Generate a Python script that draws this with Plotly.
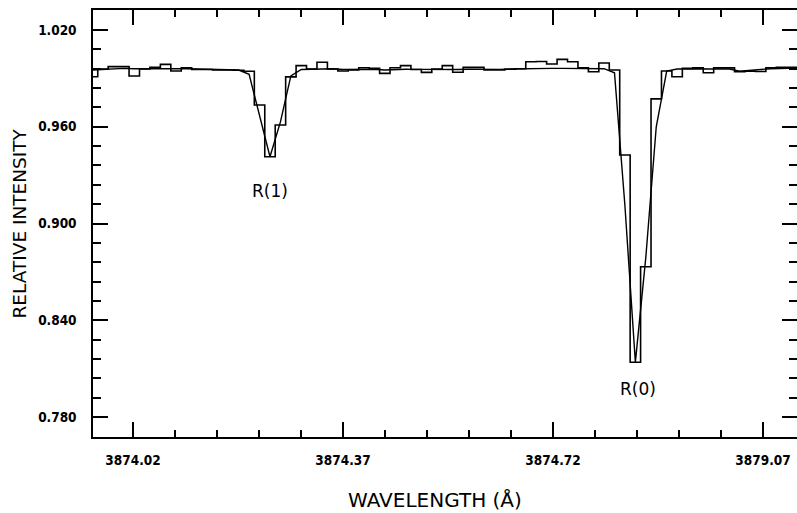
import plotly.graph_objects as go

# ---- data ----
wavelength = [
    3873.9525, 3873.9699, 3873.9873, 3874.0047, 3874.0221, 3874.0395, 3874.0569, 3874.0743,
    3874.0917, 3874.1091, 3874.1265, 3874.1439, 3874.1613, 3874.1787, 3874.1961, 3874.2135,
    3874.2309, 3874.2483, 3874.2657, 3874.2831, 3874.3005, 3874.3179, 3874.3353, 3874.3527,
    3874.3701, 3874.3875, 3874.4049, 3874.4223, 3874.4397, 3874.4571, 3874.4745, 3874.4919,
    3874.5093, 3874.5267, 3874.5441, 3874.5615, 3874.5789, 3874.5963, 3874.6137, 3874.6311,
    3874.6485, 3874.6659, 3874.6833, 3874.7007, 3874.7181, 3874.7355, 3874.7529, 3874.7703,
    3874.7877, 3874.8051, 3874.8225, 3874.8399, 3874.8573, 3874.8747, 3874.8921, 3874.9095,
    3874.9269, 3874.9443, 3874.9617, 3874.9791, 3874.9965, 3875.0139, 3875.0313, 3875.0487,
    3875.0661, 3875.0835, 3875.1009, 3875.1183, 3875.1357,
]

observed = [
    0.9910, 0.9958, 0.9973, 0.9973, 0.9915, 0.9958, 0.9969, 0.9987,
    0.9946, 0.9966, 0.9955, 0.9955, 0.9953, 0.9952, 0.9950, 0.9944,
    0.9735, 0.9414, 0.9611, 0.9909, 0.9979, 0.9958, 1.0000, 0.9958,
    0.9946, 0.9952, 0.9966, 0.9962, 0.9931, 0.9966, 0.9979, 0.9955,
    0.9937, 0.9958, 0.9979, 0.9938, 0.9968, 0.9968, 0.9953, 0.9953,
    0.9957, 0.9960, 1.0003, 1.0005, 0.9989, 1.0018, 1.0003, 0.9966,
    0.9941, 0.9995, 0.9952, 0.9425, 0.8140, 0.8732, 0.9773, 0.9946,
    0.9910, 0.9962, 0.9965, 0.9935, 0.9965, 0.9965, 0.9942, 0.9945,
    0.9943, 0.9965, 0.9968, 0.9968, 0.9968,
]

model = [
    0.9952, 0.9956, 0.9960, 0.9962, 0.9960, 0.9960, 0.9962, 0.9963,
    0.9961, 0.9960, 0.9958, 0.9957, 0.9956, 0.9955, 0.9952, 0.9925,
    0.9660, 0.9414, 0.9630, 0.9915, 0.9955, 0.9957, 0.9960, 0.9960,
    0.9955, 0.9955, 0.9958, 0.9957, 0.9952, 0.9955, 0.9957, 0.9956,
    0.9955, 0.9956, 0.9957, 0.9955, 0.9957, 0.9956, 0.9955, 0.9956,
    0.9958, 0.9960, 0.9962, 0.9962, 0.9962, 0.9962, 0.9961, 0.9960,
    0.9960, 0.9960, 0.9935, 0.9110, 0.8140, 0.8790, 0.9600, 0.9945,
    0.9958, 0.9960, 0.9960, 0.9958, 0.9960, 0.9958, 0.9945, 0.9948,
    0.9955, 0.9960, 0.9963, 0.9965, 0.9965,
]

y_ticks = [0.780, 0.840, 0.900, 0.960, 1.020]
y_tick_labels = ["0.780", "0.840", "0.900", "0.960", "1.020"]
x_ticks = [3874.02, 3874.37, 3874.72, 3875.07]
x_tick_labels = ["3874.02", "3874.37", "3874.72", "3879.07"]

line_labels = ["R(1)", "R(0)"]
label_x = [3874.2483, 3874.8610]
label_y = [0.9202, 0.7974]

x_title = "WAVELENGTH (Å)"
y_title = "RELATIVE INTENSITY"

# ---- figure ----
tick_font = dict(family="DejaVu Sans Condensed, DejaVu Sans, sans-serif",
                 size=13.5, color="black", weight="bold")

fig = go.Figure()
fig.add_trace(go.Scatter(x=wavelength, y=observed, mode="lines",
                         line=dict(shape="hvh", color="black", width=1.6),
                         hoverinfo="skip"))
fig.add_trace(go.Scatter(x=wavelength, y=model, mode="lines",
                         line=dict(color="black", width=1.4),
                         hoverinfo="skip"))

for t, xv, yv in zip(line_labels, label_x, label_y):
    fig.add_annotation(x=xv, y=yv, xref="x", yref="y", text=t, showarrow=False,
                       font=dict(family="DejaVu Sans, sans-serif", size=17, color="black"))

fig.add_annotation(x=0.4858, y=-0.1475, xref="paper", yref="paper", text=x_title,
                   showarrow=False, xanchor="center", yanchor="middle", borderpad=0,
                   font=dict(family="DejaVu Sans, sans-serif", size=20, color="black"))
fig.add_annotation(x=-0.1044, y=0.4988, xref="paper", yref="paper", text=y_title,
                   showarrow=False, xanchor="center", yanchor="middle", textangle=-90,
                   font=dict(family="DejaVu Sans, sans-serif", size=18.5, color="black"))

axis_common = dict(showline=True, linecolor="black", linewidth=1.5, mirror="ticks",
                   ticks="inside", ticklen=15, tickwidth=1.5, tickcolor="black",
                   showgrid=False, zeroline=False, tickfont=tick_font, automargin=False)

fig.update_xaxes(range=[3873.9533, 3875.1267], tickmode="array",
                 tickvals=x_ticks, ticktext=x_tick_labels, ticklabelstandoff=10,
                 minor=dict(ticks="inside", ticklen=7, tickwidth=1.5, tickcolor="black",
                            tick0=3874.02, dtick=0.07, showgrid=False),
                 **axis_common)
fig.update_yaxes(range=[0.7676, 1.0324], tickmode="array",
                 tickvals=y_ticks, ticktext=y_tick_labels, ticklabelstandoff=12,
                 minor=dict(ticks="inside", ticklen=8, tickwidth=1.5, tickcolor="black",
                            tick0=0.780, dtick=0.012, showgrid=False),
                 **axis_common)

fig.update_layout(width=797, height=513, margin=dict(l=93, r=0, t=10, b=76),
                  paper_bgcolor="white", plot_bgcolor="white", showlegend=False)

fig.write_html("out.html", config={"displayModeBar": False},
               post_script="document.body.style.margin='0';document.body.style.overflow='hidden';")
